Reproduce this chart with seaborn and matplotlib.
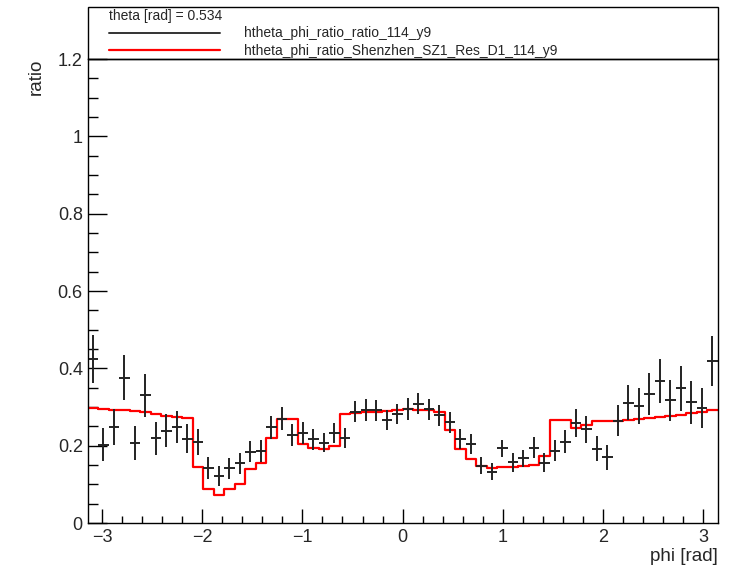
import numpy as np
import pandas as pd
import matplotlib.pyplot as plt
import seaborn as sns
from matplotlib.lines import Line2D
from matplotlib.patches import Rectangle
from matplotlib.ticker import MultipleLocator

# ratio per phi bin (60 bins over [-pi, pi])
data_ratio = [0.423, 0.203, 0.249, 0.376, 0.207, 0.330, 0.219, 0.239, 0.248, 0.218,
              0.210, 0.143, 0.122, 0.141, 0.154, 0.184, 0.187, 0.247, 0.270, 0.228,
              0.232, 0.217, 0.208, 0.232, 0.219, 0.288, 0.292, 0.292, 0.266, 0.281,
              0.294, 0.308, 0.294, 0.279, 0.260, 0.217, 0.204, 0.148, 0.133, 0.193,
              0.157, 0.167, 0.195, 0.156, 0.187, 0.210, 0.258, 0.242, 0.192, 0.170,
              0.265, 0.311, 0.303, 0.334, 0.367, 0.318, 0.348, 0.312, 0.297, 0.419]
data_err = [0.062, 0.042, 0.047, 0.059, 0.043, 0.055, 0.042, 0.043, 0.042, 0.037,
            0.034, 0.028, 0.026, 0.027, 0.027, 0.027, 0.028, 0.030, 0.030, 0.028,
            0.028, 0.027, 0.025, 0.026, 0.026, 0.028, 0.028, 0.027, 0.026, 0.026,
            0.028, 0.027, 0.027, 0.027, 0.026, 0.026, 0.026, 0.022, 0.023, 0.022,
            0.024, 0.022, 0.027, 0.025, 0.027, 0.030, 0.036, 0.035, 0.032, 0.032,
            0.041, 0.045, 0.047, 0.054, 0.057, 0.053, 0.058, 0.055, 0.052, 0.064]
mc_ratio = [0.297, 0.295, 0.293, 0.291, 0.290, 0.287, 0.283, 0.278, 0.274, 0.271,
            0.146, 0.087, 0.072, 0.087, 0.100, 0.140, 0.154, 0.219, 0.268, 0.268,
            0.204, 0.195, 0.191, 0.199, 0.281, 0.284, 0.286, 0.288, 0.290, 0.291,
            0.294, 0.291, 0.291, 0.286, 0.241, 0.191, 0.165, 0.148, 0.141, 0.146,
            0.146, 0.147, 0.150, 0.172, 0.266, 0.266, 0.245, 0.253, 0.264, 0.264,
            0.264, 0.266, 0.268, 0.271, 0.273, 0.277, 0.279, 0.284, 0.287, 0.291]

x_ticks = [-3, -2, -1, 0, 1, 2, 3]
x_tick_labels = ["\u22123", "\u22122", "\u22121", "0", "1", "2", "3"]
y_ticks = [0, 0.2, 0.4, 0.6, 0.8, 1.0, 1.2]
y_tick_labels = ["0", "0.2", "0.4", "0.6", "0.8", "1", "1.2"]

legend_title = "theta [rad] = 0.534"
data_label = "htheta_phi_ratio_ratio_114_y9"
mc_label = "htheta_phi_ratio_Shenzhen_SZ1_Res_D1_114_y9"

n_bins = len(data_ratio)
edges = np.linspace(-np.pi, np.pi, n_bins + 1)
centers = 0.5 * (edges[:-1] + edges[1:])
half_width = 0.5 * (edges[1] - edges[0])
mc = pd.DataFrame({"phi": centers, "ratio": mc_ratio})

sns.set_style("ticks")
plt.rcParams["font.family"] = ["Liberation Sans", "DejaVu Sans"]

W, H = 741, 567
fig = plt.figure(figsize=(W / 100, H / 100), dpi=100)
ax = fig.add_axes([87.7 / W, 44 / H, (717.5 - 87.7) / W, (523 - 59) / H])

sns.histplot(data=mc, x="phi", weights="ratio", bins=list(edges), element="step",
             fill=False, color="red", linewidth=1.6, ax=ax)
ax.errorbar(centers, data_ratio, xerr=half_width, yerr=data_err, fmt="none",
            ecolor="#222222", elinewidth=1.4, capsize=0)

ax.set_xlim(-np.pi, np.pi)
ax.set_ylim(0, 1.2)
ax.set_xticks(x_ticks)
ax.set_xticklabels(x_tick_labels)
ax.set_yticks(y_ticks)
ax.set_yticklabels(y_tick_labels)
ax.xaxis.set_minor_locator(MultipleLocator(0.2))
ax.yaxis.set_minor_locator(MultipleLocator(0.05))
ax.tick_params(which="both", direction="in", top=False, right=False, color="black")
ax.tick_params(axis="x", which="major", length=10, width=1, labelsize=13, pad=4)
ax.tick_params(axis="x", which="minor", length=5, width=1)
ax.tick_params(axis="y", which="major", length=14, width=1, labelsize=13, pad=3.5)
ax.tick_params(axis="y", which="minor", length=7, width=1)
for s in ax.spines.values():
    s.set_color("black")
    s.set_linewidth(1)

ax.set_xlabel("phi [rad]", loc="right", fontsize=13.5, labelpad=2)
ax.set_ylabel("ratio", loc="top", fontsize=13.5, labelpad=9)

# legend box sitting on top of the frame
fig.add_artist(Rectangle((87.7 / W, 1 - 59 / H), (718 - 87.7) / W, (59 - 6.7) / H,
                         transform=fig.transFigure, fill=False, ec="black", lw=1))
handles = [Line2D([], [], color="#333333", lw=1.4), Line2D([], [], color="red", lw=1.6)]
ax.legend(handles, [data_label, mc_label], title=legend_title, loc="upper left",
          bbox_to_anchor=(109 / W, 1 - 9 / H), bbox_transform=fig.transFigure,
          frameon=False, fontsize=10, title_fontsize=10, alignment="left",
          handlelength=8, handletextpad=1.7, labelspacing=0.25, borderpad=0,
          borderaxespad=0)

plt.savefig("out.png", dpi=100)
